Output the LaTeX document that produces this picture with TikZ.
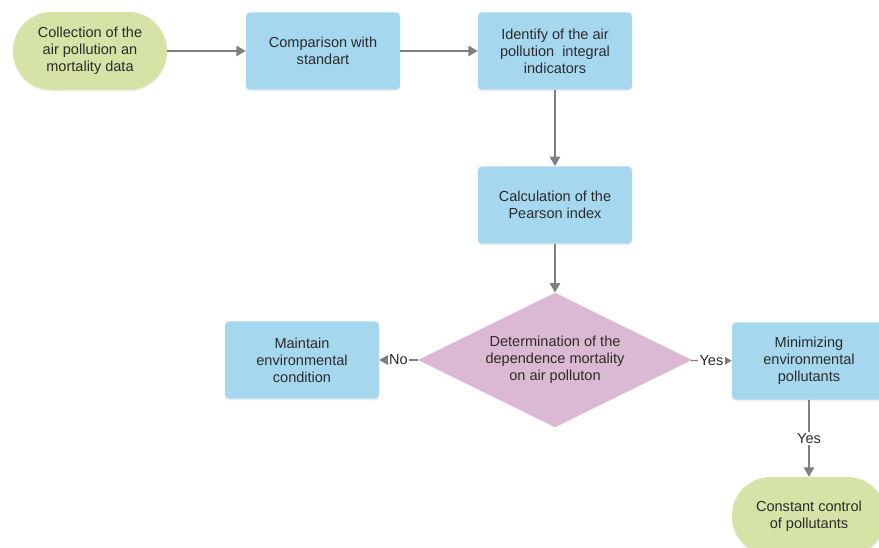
\documentclass[tikz,border=0pt]{standalone}
\usepackage{fontspec}
\setmainfont{Liberation Sans}
\usepackage{xcolor}
\usepackage{tikz}
\usetikzlibrary{arrows,shapes,backgrounds,fit,shadows}

\definecolor{termgreen}{HTML}{D5E3A6}
\definecolor{stepblue}{HTML}{A5D8EE}
\definecolor{decpink}{HTML}{DCB9D3}
\definecolor{linegray}{HTML}{7F7F7F}
\definecolor{textgray}{HTML}{2B2B2B}

\begin{document}
\begin{tikzpicture}[x=0.75pt,y=-0.75pt]
      \tikzstyle{box_base}=[align=center, text=textgray, font=\fontsize{10.9}{12.75}\selectfont, drop shadow={opacity=0.12, shadow xshift=0pt, shadow yshift=-1.2pt}]
      \tikzstyle{terminal}=[box_base, fill=termgreen, rounded corners=29pt, minimum width=115.5pt, minimum height=58.5pt]
      \tikzstyle{process}=[box_base, fill=stepblue, rounded corners=3pt, minimum width=115.5pt, minimum height=58pt]
      \tikzstyle{decision}=[diamond, aspect=2, inner sep=0pt, fill=decpink, text=textgray, align=center, font=\fontsize{10.9}{12.75}\selectfont, minimum width=205.5pt, minimum height=101pt]
      \tikzstyle{flow}=[draw=linegray, line width=0.9pt, -triangle 60]
      \tikzstyle{answer}=[fill=white, inner sep=1pt, text=textgray, font=\fontsize{10.9}{12.75}\selectfont]

      \useasboundingbox (0,0) rectangle (879,547);

      % top row
      \node [terminal] (collect) at (90,51) {Collection of the\\air pollution an\\mortality data};
      \node [process] (compare) at (323,51) {Comparison with\\standart};
      \node [process] (identify) at (555,51) {Identify of the air\\pollution\ \ integral\\indicators};

      \node [process] (pearson) at (555,205) {Calculation of the\\Pearson index};
      \node [decision] (depend) at (555,360) {Determination of the\\dependence mortality\\on air polluton};

      % branches
      \node [process] (maintain) at (302,360) {Maintain\\environmental\\condition};
      \node [process] (minimize) at (809,361) {Minimizing\\environmental\\pollutants};
      \node [terminal] (control) at (809,516) {Constant control\\of pollutants};

      \draw [flow] (collect) -- (compare);
      \draw [flow] (compare) -- (identify);
      \draw [flow] (identify) -- (pearson);
      \draw [flow] (pearson) -- (depend);
      \draw [flow] (depend) -- node [answer] {No} (maintain);
      \draw [flow] (depend) -- node [answer] {Yes} (minimize);
      \draw [flow] (minimize) -- node [answer] {Yes} (control);
\end{tikzpicture}
\end{document}
